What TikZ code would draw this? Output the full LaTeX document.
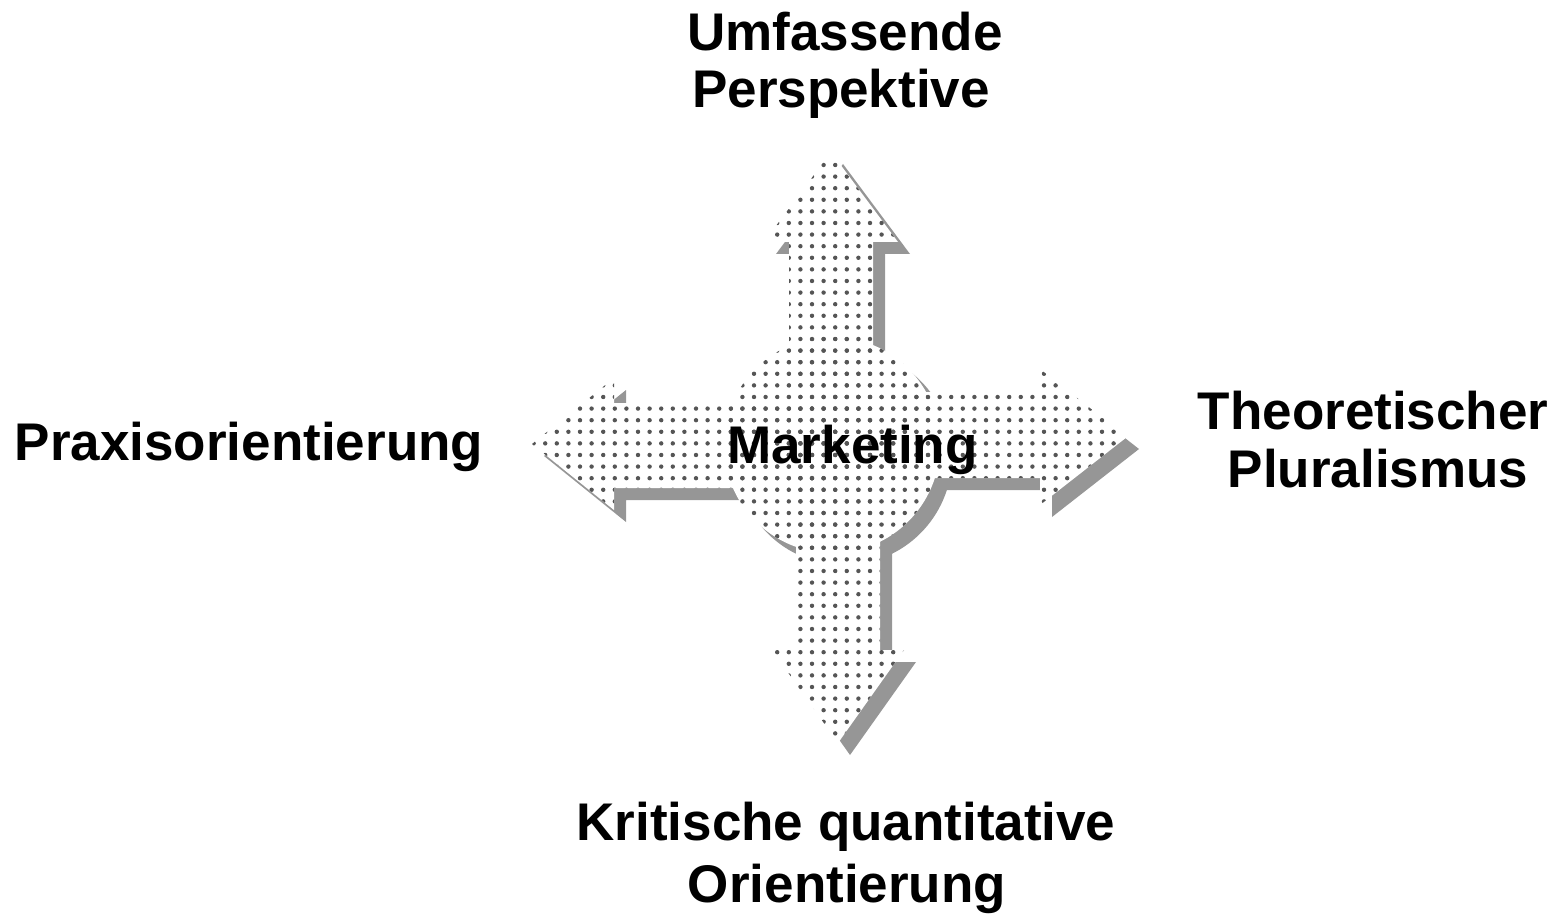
\documentclass[tikz,border=0pt]{standalone}
\usepackage{fontspec}
\setmainfont{Liberation Sans}
\usetikzlibrary{patterns.meta}
\definecolor{shadowgray}{RGB}{150,150,150}
\definecolor{dotgray}{RGB}{85,85,85}
\newcommand\mkparts[1]{%
  \fill[#1] (832,445) circle[radius=54pt];
  % up arrow
  \fill[#1] (831,152) -- (898,242) -- (873,242) -- (873,445) -- (789,445) -- (789,242) -- (764,242) -- cycle;
  % left arrow
  \fill[#1] (532,444) -- (614,378) -- (614,403) -- (832,403) -- (832,488) -- (614,488) -- (614,510) -- cycle;
  % right arrow
  \fill[#1] (1127,437) -- (1040,369) -- (1040,392) -- (832,392) -- (832,478) -- (1040,478) -- (1040,505) -- cycle;
  % down arrow
  \fill[#1] (838,743) -- (772,650) -- (796,650) -- (796,445) -- (880,445) -- (880,650) -- (904,650) -- cycle;
}
\tikzset{
  shadowpart/.style={shadowgray, shift={(12,12)}},
  whitepart/.style={white},
  dotpart/.style={pattern={Dots[distance=5.8pt, radius=1.1pt]}, pattern color=dotgray},
  lbl/.style={font=\fontsize{26.5}{30}\selectfont\bfseries, inner sep=0pt, anchor=base, text=black}
}
\begin{document}
\begin{tikzpicture}[x=0.5pt, y=-0.5pt]
  \useasboundingbox (0,0) rectangle (1556,919);
  \mkparts{shadowpart}
  \mkparts{whitepart}
  \mkparts{dotpart}
  \node[lbl] (center) at (852.5,463) {Marketing};
  \node[lbl] (up1) at (845,51) {Umfassende};
  \node[lbl] (up2) at (841,108) {Perspektive};
  \node[lbl] (left) at (249,460) {Praxisorientierung};
  \node[lbl] (right1) at (1373,429) {Theoretischer};
  \node[lbl] (right2) at (1378,487) {Pluralismus};
  \node[lbl] (down1) at (846,840) {Kritische quantitative};
  \node[lbl] (down2) at (847,902) {Orientierung};
\end{tikzpicture}
\end{document}
